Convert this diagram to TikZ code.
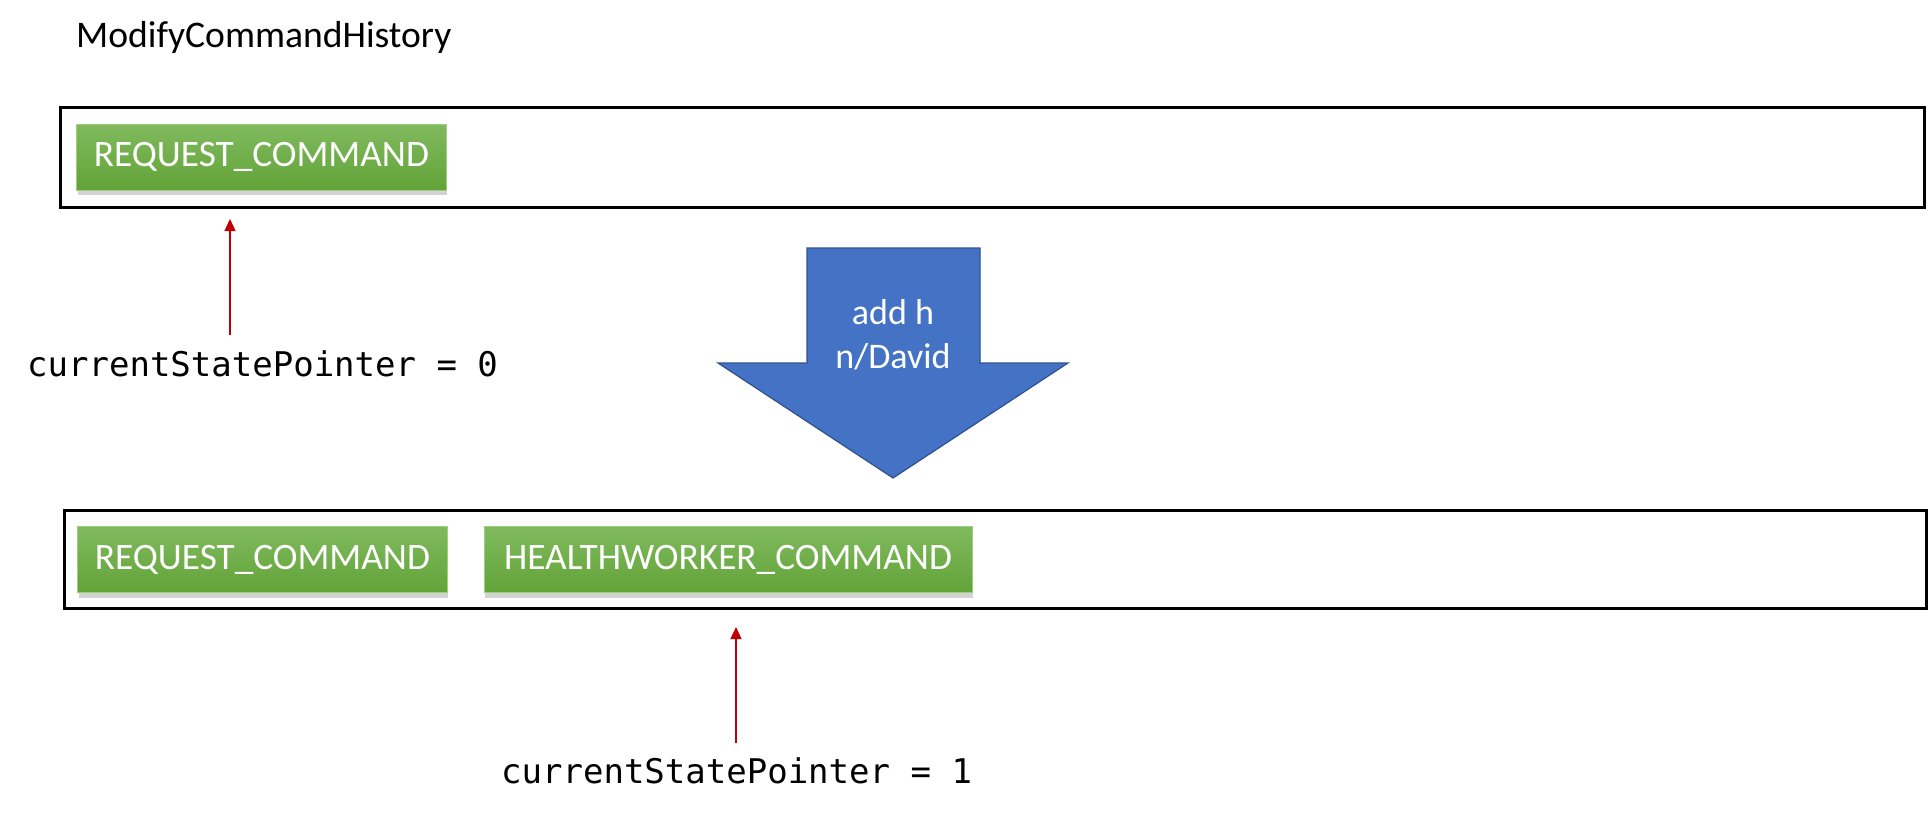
\documentclass[tikz,border=0pt]{standalone}
\usepackage{fontspec}
\setmainfont{Carlito}
\setmonofont{DejaVu Sans Mono}
\usetikzlibrary{positioning,arrows.meta,shadows}
\definecolor{cmdtop}{RGB}{128,186,94}
\definecolor{cmdbot}{RGB}{98,163,56}
\definecolor{cmdline}{RGB}{160,205,130}
\definecolor{addblue}{RGB}{68,114,196}
\definecolor{addline}{RGB}{47,82,143}
\definecolor{ptrred}{RGB}{192,0,0}

\begin{document}
\begin{tikzpicture}[x=1pt,y=-1pt]
		\tikzset{histbox/.style = {draw, line width=3pt, inner sep=0pt},
			cmdbox/.style = {top color=cmdtop, bottom color=cmdbot, draw=cmdline, line width=1pt, text=white, font=\fontsize{37.3}{44}\selectfont, minimum height=66pt, inner xsep=17pt, inner ysep=0pt, drop shadow={shadow xshift=1pt, shadow yshift=-5pt, opacity=0.35}},
			ptr/.style = {-{Triangle[width=11pt,length=12pt]}, draw=ptrred, fill=ptrred, line width=1.2pt},
			ptrtext/.style = {font=\ttfamily\fontsize{34}{40}\selectfont, inner sep=0pt, anchor=base west}}

		\useasboundingbox (0,0) rectangle (1929,817);

		\node[font=\fontsize{37.6}{44}\selectfont, inner sep=0pt, anchor=base west] (title) at (76,47) {ModifyCommandHistory};

		\node[histbox, minimum width=1864pt, minimum height=100pt] (hist_0) at (992,157) {};
		\node[histbox, minimum width=1862pt, minimum height=98pt] (hist_1) at (995,559) {};

		\node[cmdbox, minimum width=367pt] (req_0) at (261.5,157) {REQUEST\_COMMAND};
		\node[cmdbox, minimum width=365pt] (req_1) at (262.5,559.5) {REQUEST\_COMMAND};
		\node[cmdbox, minimum width=488pt, right=36pt of req_1] (hw_1) {HEALTHWORKER\_COMMAND};


		\draw[draw=addline, fill=addblue, line width=1.2pt] (807,248) -- (980,248) -- (980,363) -- (1068,363) -- (893,478) -- (718,363) -- (807,363) -- cycle;
		\node[text=white, align=center, font=\fontsize{36}{44}\selectfont] (add) at (893,335) {add h\\n/David};


		\node[ptrtext] (ptr_0) at (27,376) {currentStatePointer = 0};
		\node[ptrtext] (ptr_1) at (501,783) {currentStatePointer = 1};

		\coordinate (base_0) at (230,335);
		\coordinate (tip_0) at (230,219);
		\coordinate (base_1) at (736,743);
		\coordinate (tip_1) at (736,627);

		\draw[ptr] (base_0)--(tip_0);
		\draw[ptr] (base_1)--(tip_1);

	\end{tikzpicture}
\end{document}
